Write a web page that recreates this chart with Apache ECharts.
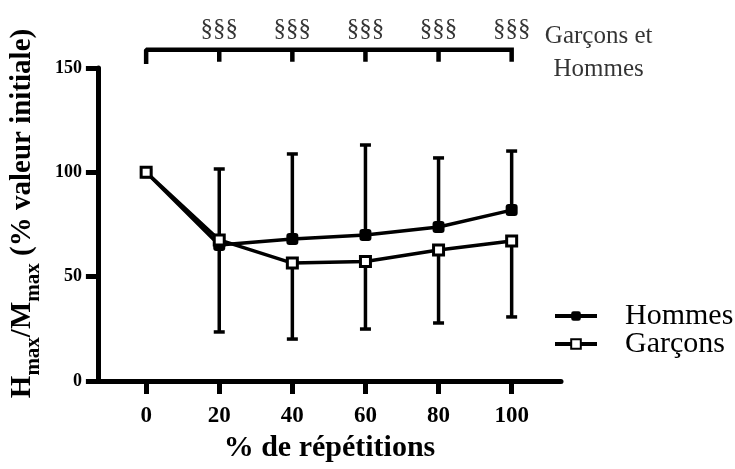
<!DOCTYPE html>
<html>
<head>
<meta charset="utf-8">
<script src="https://cdn.jsdelivr.net/npm/echarts@6/dist/echarts.min.js"></script>
<style>
  html, body { margin: 0; padding: 0; background: #fff; }
  #chart { width: 735px; height: 469px; }
</style>
</head>
<body>
<div id="chart"></div>
<script>
// % de répétitions
var reps = [0, 20, 40, 60, 80, 100];
// Hmax/Mmax (% valeur initiale)
var hommes = [100, 65.2, 68.0, 70.0, 73.8, 81.9];
var garcons = [100, 67.6, 56.5, 57.3, 62.8, 67.1];
// bornes des barres d'erreur (haut pour hommes, bas pour garçons)
var hommesHaut = [null, 101.6, 108.8, 113.1, 106.9, 110.2];
var garconsBas = [null, 23.5, 20.1, 24.9, 27.8, 30.7];
// significativité garçons vs hommes
var sigReps = [20, 40, 60, 80, 100];
var sigLabels = ['§§§', '§§§', '§§§', '§§§', '§§§'];
var bracketY = 158.8, bracketTickY = 153;
var yTicks = [0, 50, 100, 150];

var font = 'Liberation Serif';

// crochet au-dessus du graphique
var bracket = [];
reps.forEach(function (x, i) {
  if (i > 0) bracket.push([x, bracketY]);
  bracket.push([x, bracketTickY]);
  bracket.push([x, bracketY]);
});

function errData(means, bounds) {
  var out = [];
  for (var i = 0; i < reps.length; i++) {
    if (bounds[i] != null) out.push([reps[i], means[i], bounds[i]]);
  }
  return out;
}

function renderErr(params, api) {
  var p0 = api.coord([api.value(0), api.value(1)]);
  var p1 = api.coord([api.value(0), api.value(2)]);
  var cap = 5.5;
  var st = { stroke: '#000', lineWidth: 3.5 };
  return {
    type: 'group',
    children: [
      { type: 'line', shape: { x1: p0[0], y1: p0[1], x2: p1[0], y2: p1[1] }, style: st },
      { type: 'line', shape: { x1: p1[0] - cap, y1: p1[1], x2: p1[0] + cap, y2: p1[1] }, style: st }
    ]
  };
}

var chart = echarts.init(document.getElementById('chart'));
var option = {
  animation: false,
  textStyle: { fontFamily: font, color: '#000' },
  grid: { left: 92, right: 174, top: 68, bottom: 88 },
  legend: {
    data: ['Hommes', 'Garçons'],
    orient: 'vertical',
    left: 553,
    top: 301,
    padding: 0,
    itemWidth: 42,
    itemHeight: 12,
    itemGap: -2,
    lineStyle: { width: 4 },
    textStyle: { fontFamily: font, fontSize: 30, color: '#000', lineHeight: 28, padding: [0, 0, 0, 23] }
  },
  xAxis: {
    type: 'value',
    min: -13.2,
    max: 113.5,
    splitLine: { show: false },
    axisLine: { onZero: false, lineStyle: { color: '#000', width: 5 } },
    axisTick: { length: 13, lineStyle: { color: '#000', width: 5 }, customValues: reps },
    axisLabel: { customValues: reps, margin: 24, fontFamily: font, fontSize: 23, fontWeight: 'bold', color: '#000' },
    name: '% de répétitions',
    nameLocation: 'middle',
    nameGap: 52,
    nameTextStyle: { fontFamily: font, fontSize: 30, fontWeight: 'bold', color: '#000' }
  },
  yAxis: {
    type: 'value',
    min: 0,
    max: 150,
    interval: 50,
    splitLine: { show: false },
    axisLine: { show: true, onZero: false, lineStyle: { color: '#000', width: 5 } },
    axisTick: { show: true, length: 12, lineStyle: { color: '#000', width: 5 }, customValues: yTicks },
    axisLabel: { customValues: yTicks, margin: 16, fontFamily: font, fontSize: 18, fontWeight: 'bold', color: '#000' },
    name: '{a|H}{s|max}{a|/M}{s|max}{a| (% valeur initiale)}',
    nameLocation: 'middle',
    nameRotate: 90,
    nameGap: 44,
    nameTextStyle: {
      padding: [0, 0, 0, 22],
      rich: {
        a: { fontFamily: font, fontSize: 29, fontWeight: 'bold', color: '#000', verticalAlign: 'bottom', padding: [0, 0, 7, 0] },
        s: { fontFamily: font, fontSize: 21, fontWeight: 'bold', color: '#000', verticalAlign: 'bottom' }
      }
    }
  },
  series: [
    {
      name: 'errHommes',
      type: 'custom',
      renderItem: renderErr,
      data: errData(hommes, hommesHaut),
      z: 1,
      silent: true
    },
    {
      name: 'errGarcons',
      type: 'custom',
      renderItem: renderErr,
      data: errData(garcons, garconsBas),
      z: 1,
      silent: true
    },
    {
      name: 'Hommes',
      type: 'line',
      data: reps.map(function (x, i) { return [x, hommes[i]]; }),
      symbol: 'roundRect',
      symbolSize: 12,
      showAllSymbol: true,
      lineStyle: { color: '#000', width: 3.5 },
      itemStyle: { color: '#000', borderColor: '#000', borderWidth: 0 },
      z: 3
    },
    {
      name: 'Garçons',
      type: 'line',
      data: reps.map(function (x, i) { return [x, garcons[i]]; }),
      symbol: 'rect',
      symbolSize: 10,
      showAllSymbol: true,
      lineStyle: { color: '#000', width: 3.5 },
      itemStyle: { color: '#fff', borderColor: '#000', borderWidth: 3 },
      z: 4
    },
    {
      name: 'bracket',
      type: 'line',
      data: bracket,
      symbol: 'none',
      clip: false,
      silent: true,
      lineStyle: { color: '#000', width: 4.5, cap: 'square' },
      z: 2
    },
    {
      name: 'sig',
      type: 'scatter',
      data: sigReps.map(function (x) { return [x, bracketY]; }),
      symbolSize: 0,
      clip: false,
      silent: true,
      label: {
        show: true,
        position: 'top',
        distance: 8,
        formatter: function (p) { return sigLabels[p.dataIndex]; },
        fontFamily: font,
        fontSize: 25,
        color: '#000'
      }
    },
    {
      name: 'sigNote',
      type: 'scatter',
      data: [[100, bracketY]],
      symbolSize: 0,
      clip: false,
      silent: true,
      label: {
        show: true,
        position: 'right',
        distance: 87,
        align: 'center',
        offset: [0, 3],
        lineHeight: 33,
        formatter: 'Garçons et\nHommes',
        fontFamily: font,
        fontSize: 25,
        color: '#000'
      }
    }
  ]
};
chart.setOption(option);
</script>
</body>
</html>
